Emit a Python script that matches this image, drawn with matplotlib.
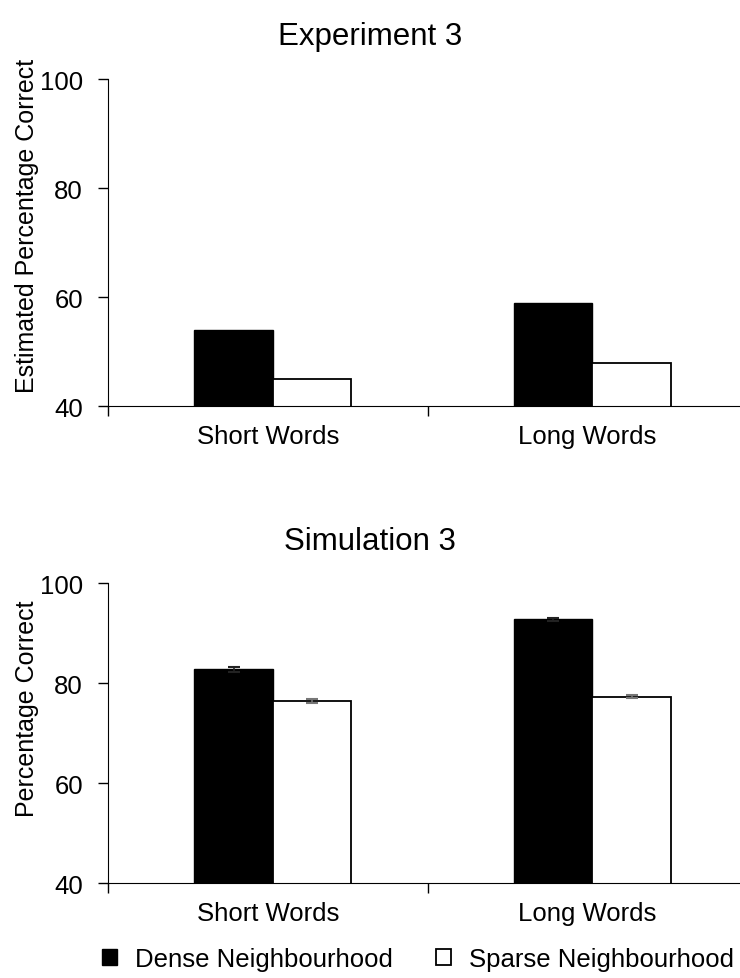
import numpy as np
import matplotlib.pyplot as plt

plt.rcParams['font.family'] = ['Liberation Sans', 'DejaVu Sans']

categories = ['Short Words', 'Long Words']
series_names = ['Dense Neighbourhood', 'Sparse Neighbourhood']

# Experiment 3 estimates
exp_dense = [54, 59]
exp_sparse = [45, 48]

# Simulation 3 means and standard errors
sim_dense = [82.8, 92.8]
sim_sparse = [76.4, 77.3]
sim_dense_err = [0.5, 0.3]
sim_sparse_err = [0.4, 0.3]

yticks = [40, 60, 80, 100]
FS = 18.5


def style_axes(ax, ylabel, label_y):
    ax.set_ylim(40, 100)
    ax.set_xlim(-0.5, 1.5)
    ax.set_yticks(yticks)
    ax.set_xticks([0, 1])
    ax.set_xticklabels(categories)
    ax.tick_params(axis='x', which='major', length=0, pad=13, labelsize=FS)
    ax.set_xticks([-0.5, 0.5, 1.5], minor=True)
    ax.tick_params(axis='x', which='minor', length=7, direction='out', width=1)
    ax.tick_params(axis='y', length=7, direction='out', labelsize=FS, width=1, pad=11)
    for s in ['top', 'right']:
        ax.spines[s].set_visible(False)
    ax.set_ylabel(ylabel, fontsize=18)
    ax.yaxis.set_label_coords(-0.108, label_y)


fig = plt.figure(figsize=(7.4, 9.79), dpi=100)
ax1 = fig.add_axes([0.146, 0.584, 0.864, 0.334])
ax2 = fig.add_axes([0.146, 0.097, 0.864, 0.306])

x = np.arange(len(categories)) + 0.015
w = 0.245

ax1.bar(x - w / 2, exp_dense, w, color='black', edgecolor='black', linewidth=1)
ax1.bar(x + w / 2, exp_sparse, w, color='white', edgecolor='black', linewidth=1.3)
style_axes(ax1, 'Estimated Percentage Correct', 0.555)

ax2.bar(x - w / 2, sim_dense, w, color='black', edgecolor='black', linewidth=1)
ax2.bar(x + w / 2, sim_sparse, w, color='white', edgecolor='black', linewidth=1.3)
ax2.errorbar(x - w / 2, sim_dense, yerr=sim_dense_err, fmt='none', ecolor='#222222',
             capsize=4.5, elinewidth=1.2, capthick=1.5)
ax2.errorbar(x + w / 2, sim_sparse, yerr=sim_sparse_err, fmt='none', ecolor='#777777',
             capsize=4.5, elinewidth=1.2, capthick=1.5)
style_axes(ax2, 'Percentage Correct', 0.585)

# chart titles are centred on the whole figure width
fig.text(0.5, 1 - 37 / 979, 'Experiment 3', ha='center', va='center', fontsize=22.5)
fig.text(0.5, 1 - 542 / 979, 'Simulation 3', ha='center', va='center', fontsize=22.5)

handles = [plt.Rectangle((0, 0), 1, 1, facecolor='black', edgecolor='black'),
           plt.Rectangle((0, 0), 1, 1, facecolor='white', edgecolor='black', linewidth=1.3)]
fig.legend(handles, series_names, loc='center', bbox_to_anchor=(0.565, 1 - 960 / 979), ncol=2,
           frameon=False, fontsize=FS, handlelength=0.6, handleheight=0.6,
           handletextpad=0.7, columnspacing=1.65, borderpad=0)

fig.savefig('out.png', dpi=100)
